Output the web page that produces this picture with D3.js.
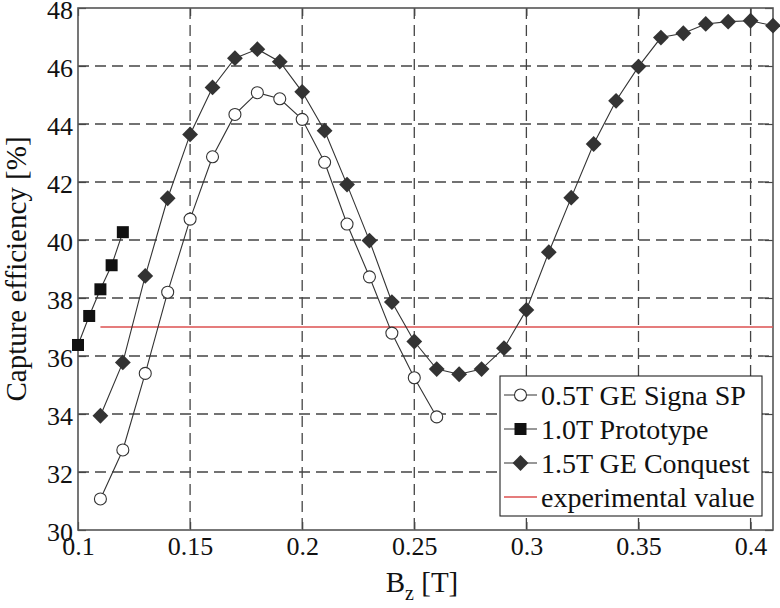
<!DOCTYPE html>
<html><head><meta charset="utf-8">
<script src="https://cdn.jsdelivr.net/npm/d3@7"></script>
<style>body{margin:0;background:#fff}svg{display:block}</style>
</head><body>
<svg id="c" width="780" height="608"></svg>
<script>
const xSignaSP = [0.11,0.12,0.13,0.14,0.15,0.16,0.17,0.18,0.19,0.20,0.21,0.22,0.23,0.24,0.25,0.26];
const ySignaSP = [31.07,32.76,35.4,38.2,40.72,42.87,44.33,45.08,44.87,44.16,42.68,40.55,38.73,36.79,35.25,33.9];
const xPrototype = [0.10,0.105,0.11,0.115,0.12];
const yPrototype = [36.38,37.38,38.3,39.13,40.27];
const xConquest = [0.11,0.12,0.13,0.14,0.15,0.16,0.17,0.18,0.19,0.20,0.21,0.22,0.23,0.24,0.25,0.26,0.27,0.28,0.29,0.30,0.31,0.32,0.33,0.34,0.35,0.36,0.37,0.38,0.39,0.40,0.41];
const yConquest = [33.94,35.78,38.76,41.44,43.64,45.26,46.27,46.58,46.15,45.11,43.77,41.91,39.98,37.86,36.5,35.55,35.37,35.55,36.27,37.59,39.58,41.46,43.31,44.8,45.98,46.98,47.13,47.45,47.53,47.56,47.39];
const experimentalValue = 37;
const experimentalRange = [0.11, 0.41];
const xTicks = [0.1,0.15,0.2,0.25,0.3,0.35,0.4];
const yTicks = [30,32,34,36,38,40,42,44,46,48];
const legendLabels = ["0.5T GE Signa SP","1.0T Prototype","1.5T GE Conquest","experimental value"];

const svg = d3.select("#c");
const L=78, R=773, T=8, B=530;
const x = d3.scaleLinear().domain([0.1,0.41]).range([L,R]);
const y = d3.scaleLinear().domain([30,48]).range([B,T]);
const font = "Liberation Serif, Times New Roman, serif";
const gridCol = "#444";

// grid
const g = svg.append("g");
g.selectAll(".vg").data(xTicks.filter(d=>d>0.1)).enter().append("line")
  .attr("x1",d=>x(d)).attr("x2",d=>x(d)).attr("y1",T).attr("y2",B)
  .attr("stroke",gridCol).attr("stroke-width",1.3).attr("stroke-dasharray","11,6");
g.selectAll(".hg").data(yTicks.filter(d=>d>30&&d<48)).enter().append("line")
  .attr("x1",L).attr("x2",R).attr("y1",d=>y(d)).attr("y2",d=>y(d))
  .attr("stroke",gridCol).attr("stroke-width",1.3).attr("stroke-dasharray","11,6");

// axes via d3
const xAxis = svg.append("g").attr("transform",`translate(0,${B})`)
  .call(d3.axisBottom(x).tickValues(xTicks).tickFormat(d=>String(+d.toFixed(2))).tickSize(-8));
const xAxisTop = svg.append("g").attr("transform",`translate(0,${T})`)
  .call(d3.axisTop(x).tickValues(xTicks).tickFormat("").tickSize(-8));
const yAxis = svg.append("g").attr("transform",`translate(${L},0)`)
  .call(d3.axisLeft(y).tickValues(yTicks).tickSize(-8));
const yAxisR = svg.append("g").attr("transform",`translate(${R},0)`)
  .call(d3.axisRight(y).tickValues(yTicks).tickFormat("").tickSize(-8));
[xAxis,xAxisTop,yAxis,yAxisR].forEach(a=>{
  a.select(".domain").remove();
  a.selectAll(".tick line").attr("stroke","#444").attr("stroke-width",1.2);
  a.selectAll("text").attr("font-family",font).attr("font-size",26).attr("fill","#111");
});
xAxis.selectAll("text").attr("dy","0.71em").attr("y",7);
yAxis.selectAll("text").attr("dy","0.38em").attr("x",-5).attr("y",1);

// frame
svg.append("rect").attr("x",L).attr("y",T).attr("width",R-L).attr("height",B-T)
  .attr("fill","none").attr("stroke","#555").attr("stroke-width",1.6);

// experimental line
svg.append("line").attr("x1",x(experimentalRange[0])).attr("x2",x(experimentalRange[1]))
  .attr("y1",y(experimentalValue)).attr("y2",y(experimentalValue))
  .attr("stroke","#dc5050").attr("stroke-width",1.6);

const line = d3.line().x(d=>x(d[0])).y(d=>y(d[1]));
const lc = "#333";
function series(xs, ys){ return xs.map((v,i)=>[v,ys[i]]); }
const sSP = series(xSignaSP,ySignaSP), sPr = series(xPrototype,yPrototype), sCq = series(xConquest,yConquest);
[sSP,sPr,sCq].forEach(s=>svg.append("path").attr("d",line(s)).attr("fill","none").attr("stroke",lc).attr("stroke-width",1.1));

function drawCircle(sel,cx,cy){ sel.append("circle").attr("cx",cx).attr("cy",cy).attr("r",6).attr("fill","#fff").attr("stroke","#333").attr("stroke-width",1.1); }
function drawSquare(sel,cx,cy){ sel.append("rect").attr("x",cx-6).attr("y",cy-6).attr("width",12).attr("height",12).attr("fill","#111"); }
function drawDiamond(sel,cx,cy){ sel.append("path").attr("d",d3.symbol().type(d3.symbolSquare).size(125)()).attr("transform",`translate(${cx},${cy}) rotate(45)`).attr("fill","#333"); }

const mk = svg.append("g");
sSP.forEach(d=>drawCircle(mk,x(d[0]),y(d[1])));
sPr.forEach(d=>drawSquare(mk,x(d[0]),y(d[1])));
sCq.forEach(d=>drawDiamond(mk,x(d[0]),y(d[1])));

// legend
const lg = svg.append("g");
lg.append("rect").attr("x",500).attr("y",376).attr("width",262).attr("height",140)
  .attr("fill","#fff").attr("stroke","#222").attr("stroke-width",1.1);
const rowY = [395,429,463,497];
const drawers = [drawCircle,drawSquare,drawDiamond,null];
legendLabels.forEach((lab,i)=>{
  const yy = rowY[i];
  lg.append("line").attr("x1",504).attr("x2",537).attr("y1",yy).attr("y2",yy)
    .attr("stroke", i===3 ? "#dc5050" : lc).attr("stroke-width", i===3?1.3:1.1);
  if(drawers[i]) drawers[i](lg,520.5,yy);
  lg.append("text").attr("x",541).attr("y",yy).attr("dy","0.35em")
    .attr("font-family",font).attr("font-size",28).attr("fill","#111").text(lab);
});

// axis titles
svg.append("text").attr("transform",`translate(26,${(T+B)/2}) rotate(-90)`)
  .attr("text-anchor","middle").attr("font-family",font).attr("font-size",29).attr("fill","#111")
  .text("Capture efficiency [%]");
const xt = svg.append("text").attr("x",422).attr("y",592).attr("text-anchor","middle")
  .attr("font-family",font).attr("font-size",29).attr("fill","#111");
xt.append("tspan").text("B");
xt.append("tspan").attr("font-size",20).attr("dy",8).text("z");
xt.append("tspan").attr("dy",-8).text(" [T]");
</script>
</body></html>
